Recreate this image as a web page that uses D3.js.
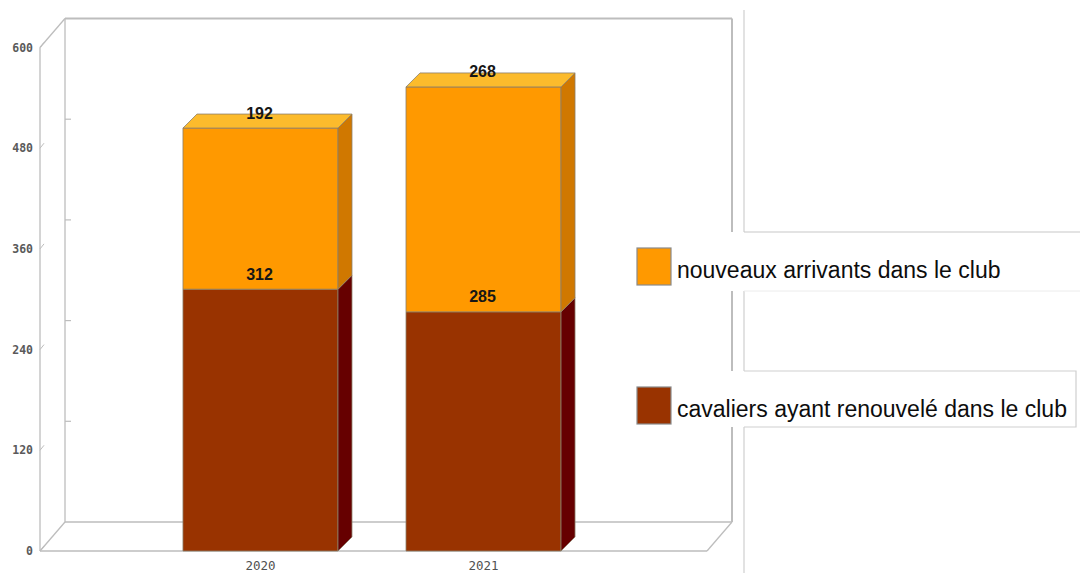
<!DOCTYPE html>
<html>
<head>
<meta charset="utf-8">
<script src="https://cdn.jsdelivr.net/npm/d3@7"></script>
<style>
  html, body { margin: 0; padding: 0; background: #fff; }
  svg { display: block; }
</style>
</head>
<body>
<svg id="chart" width="1080" height="573"></svg>
<script>
// ---- data ----
const categories = ["2020", "2021"];
const renouveles = [312, 285];
const nouveaux = [192, 268];
const yTicks = [0, 120, 240, 360, 480, 600];
const seriesNames = ["cavaliers ayant renouvelé dans le club", "nouveaux arrivants dans le club"];
const seriesKeys = ["renouveles", "nouveaux"];

// ---- styles ----
const faceColors = {
  renouveles: { front: "#993300", side: "#660000", top: "#b34a1a" },
  nouveaux:   { front: "#ff9900", side: "#d07800", top: "#fcbb2c" }
};
const frameColor = "#bdbdbd";
const depth = { dx: 25, dy: -29 };
const barDepth = { dx: 14, dy: -14 };

const svg = d3.select("#chart");

const table = categories.map((c, i) => ({ cat: c, renouveles: renouveles[i], nouveaux: nouveaux[i] }));
const stacked = d3.stack().keys(seriesKeys)(table);

const y = d3.scaleLinear().domain([0, 600]).range([551, 47.5]);
const x = d3.scaleBand().domain(categories).range([40, 704]).paddingInner(0.305).paddingOuter(0.641);

const x0 = 40, x1 = 707;
const yb = y(0), yt = y(600);

// ---- frame ----
const frame = svg.append("g").attr("fill", "none").attr("stroke", frameColor);
// back plane
frame.append("line").attr("x1", x0 + depth.dx).attr("y1", yt + depth.dy).attr("x2", x1 + depth.dx).attr("y2", yt + depth.dy).attr("stroke-width", 2);
frame.append("line").attr("x1", x0 + depth.dx).attr("y1", yt + depth.dy).attr("x2", x0 + depth.dx).attr("y2", yb + depth.dy).attr("stroke-width", 1.3);
frame.append("line").attr("x1", x0 + depth.dx).attr("y1", yb + depth.dy).attr("x2", x1 + depth.dx).attr("y2", yb + depth.dy).attr("stroke-width", 1.3);
// right edge of back plane, interrupted by legend boxes
[[yt + depth.dy, 232], [291, 371], [427, yb + depth.dy]].forEach(([a, b]) => {
  frame.append("line").attr("x1", x1 + depth.dx).attr("y1", a).attr("x2", x1 + depth.dx).attr("y2", b).attr("stroke-width", 2);
});
// front axis and floor
frame.append("line").attr("x1", x0).attr("y1", yt).attr("x2", x0).attr("y2", yb).attr("stroke-width", 1.3);
frame.append("line").attr("x1", x0).attr("y1", yt).attr("x2", x0 + depth.dx).attr("y2", yt + depth.dy).attr("stroke-width", 1.3);
frame.append("line").attr("x1", x0).attr("y1", yb).attr("x2", x1).attr("y2", yb).attr("stroke-width", 1.3);
frame.append("line").attr("x1", x0).attr("y1", yb).attr("x2", x0 + depth.dx).attr("y2", yb + depth.dy).attr("stroke-width", 1.3);
frame.append("line").attr("x1", x1).attr("y1", yb).attr("x2", x1 + depth.dx).attr("y2", yb + depth.dy).attr("stroke-width", 1.3);

// ticks
yTicks.forEach(v => {
  const yy = y(v);
  frame.append("line").attr("x1", x0).attr("y1", yy).attr("x2", x0 + 4).attr("y2", yy - 5).attr("stroke-width", 1);
  if (v > 0 && v < 600) {
    frame.append("line").attr("x1", x0 + depth.dx).attr("y1", yy + depth.dy).attr("x2", x0 + depth.dx + 6).attr("y2", yy + depth.dy).attr("stroke-width", 1.2);
  }
});

// ---- axes (labels) ----
const yAxis = svg.append("g").attr("transform", `translate(${x0},0)`)
  .call(d3.axisLeft(y).tickValues(yTicks).tickSize(0).tickPadding(7));
yAxis.select(".domain").remove();
yAxis.selectAll("text").attr("font-family", "DejaVu Sans Mono").attr("font-size", 11.5)
  .attr("font-weight", "bold").attr("fill", "#5a5a5a");

const xAxis = svg.append("g").attr("transform", `translate(0,${yb})`)
  .call(d3.axisBottom(x).tickSize(0).tickPadding(10));
xAxis.select(".domain").remove();
xAxis.selectAll("text").attr("font-family", "DejaVu Sans Mono").attr("font-size", 12.5).attr("fill", "#505050");

// ---- bars ----
const bars = svg.append("g");
const bw = x.bandwidth();
const edge = "#8c7f6a";
stacked.forEach((series, si) => {
  const key = series.key;
  const col = faceColors[key];
  series.forEach(d => {
    const bx = x(d.data.cat);
    const top = y(d[1]), bot = y(d[0]);
    const g = bars.append("g").attr("stroke", edge).attr("stroke-width", 0.8).attr("stroke-linejoin", "round");
    g.append("rect").attr("x", bx).attr("y", top).attr("width", bw).attr("height", bot - top).attr("fill", col.front);
    g.append("path").attr("fill", col.side).attr("d",
      `M${bx + bw},${bot} L${bx + bw + barDepth.dx},${bot + barDepth.dy} L${bx + bw + barDepth.dx},${top + barDepth.dy} L${bx + bw},${top} Z`);
    if (si === stacked.length - 1) {
      g.append("path").attr("fill", col.top).attr("d",
        `M${bx},${top} L${bx + barDepth.dx},${top + barDepth.dy} L${bx + bw + barDepth.dx},${top + barDepth.dy} L${bx + bw},${top} Z`);
    }
  });
});

// value labels
stacked.forEach(series => {
  series.forEach(d => {
    svg.append("text")
      .attr("x", x(d.data.cat) + bw / 2 - 1)
      .attr("y", y(d[1]) - 9.5)
      .attr("text-anchor", "middle")
      .attr("font-family", "Liberation Sans, Arial, sans-serif")
      .attr("font-weight", "bold")
      .attr("font-size", 16)
      .attr("fill", "#161616")
      .text(d[1] - d[0]);
  });
});

// ---- legend (pasted boxes) ----
const leg = svg.append("g");
// long vertical line right of chart
[[10, 232], [291, 371], [427, 573]].forEach(([a, b]) => {
  leg.append("line").attr("x1", 744).attr("y1", a).attr("x2", 744).attr("y2", b).attr("stroke", "#cfcfcf").attr("stroke-width", 1.2);
});
// box 1
leg.append("line").attr("x1", 744).attr("y1", 232).attr("x2", 1080).attr("y2", 232).attr("stroke", "#c8c8c8").attr("stroke-width", 1.2);
leg.append("line").attr("x1", 744).attr("y1", 291).attr("x2", 1080).attr("y2", 291).attr("stroke", "#ececec").attr("stroke-width", 1);
// box 2
leg.append("path").attr("d", "M744,371 L1076,371 L1076,427 L744,427").attr("fill", "none").attr("stroke", "#cfcfcf").attr("stroke-width", 1.2);

const legendItems = [
  { name: seriesNames[1], color: faceColors.nouveaux.front, y: 248 },
  { name: seriesNames[0], color: faceColors.renouveles.front, y: 387 }
];
legendItems.forEach(it => {
  leg.append("rect").attr("x", 637).attr("y", it.y).attr("width", 34).attr("height", 37)
    .attr("fill", it.color).attr("stroke", "#8a8a8a").attr("stroke-width", 1.2);
  leg.append("text").attr("x", 677).attr("y", it.y + 29.5)
    .attr("font-family", "Liberation Sans, Arial, Helvetica, sans-serif")
    .attr("font-size", 23).attr("fill", "#0d0d0d").text(it.name);
});
</script>
</body>
</html>
